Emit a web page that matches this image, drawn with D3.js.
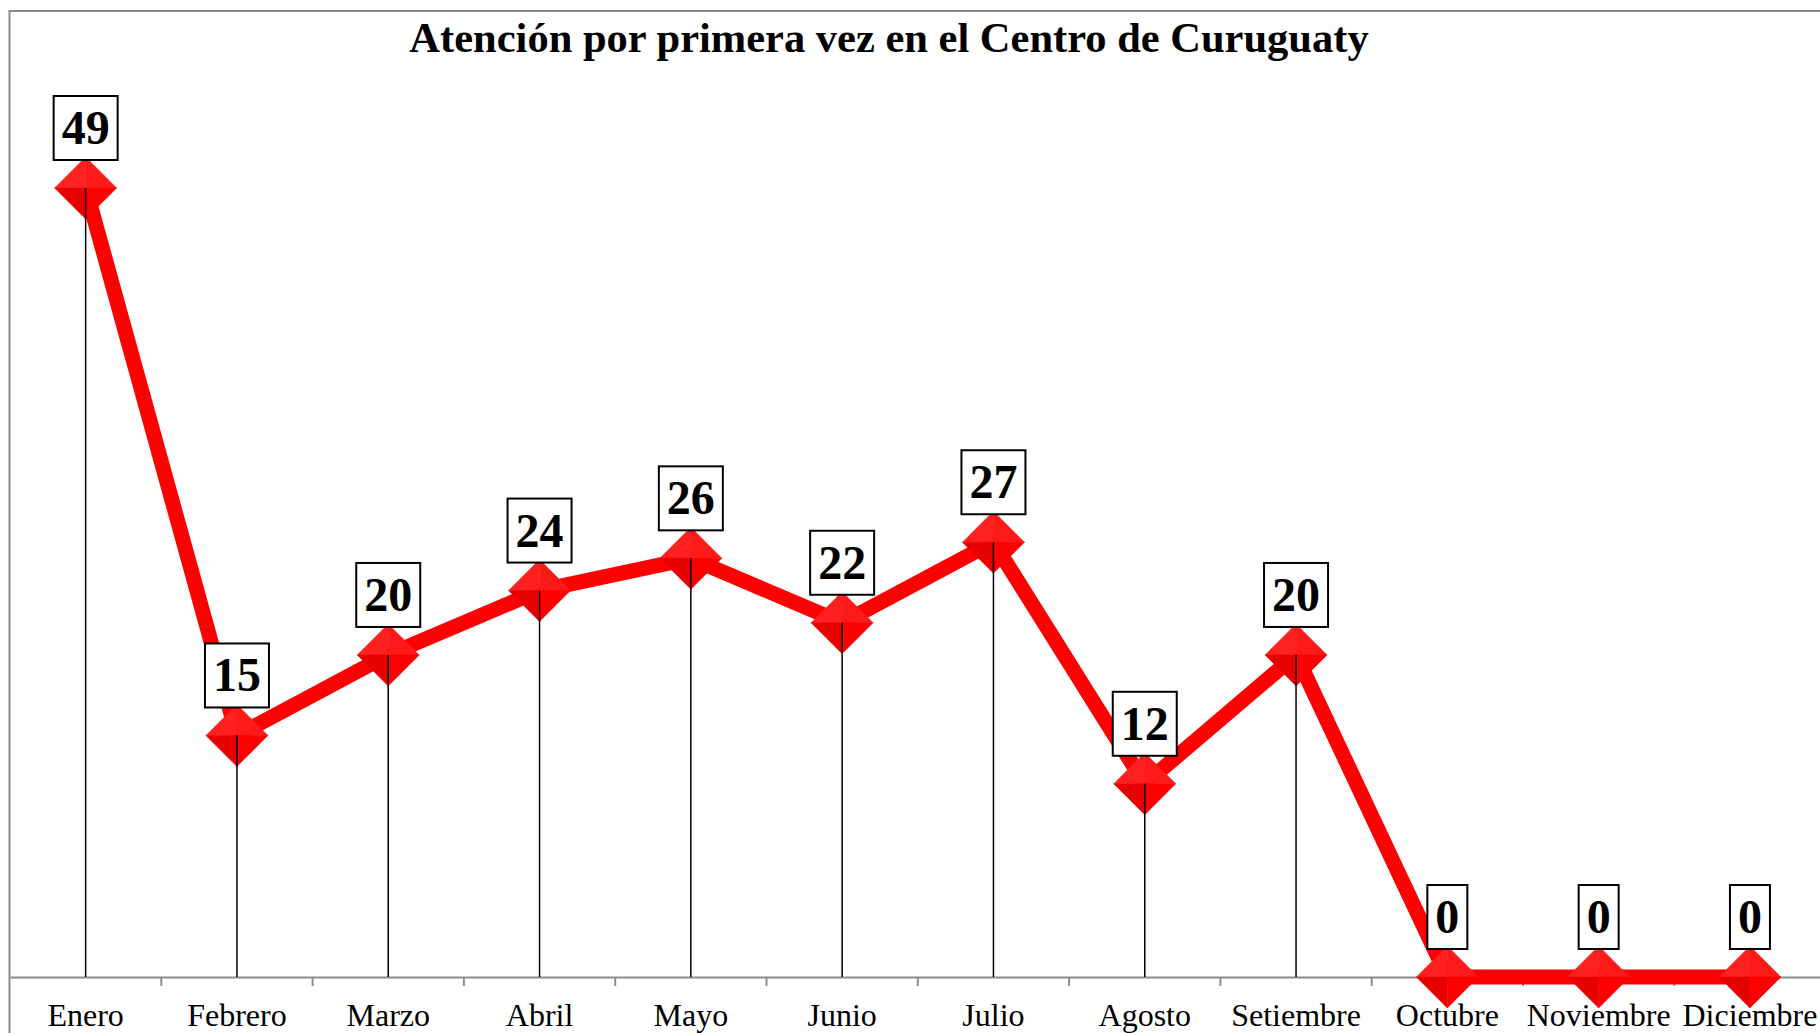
<!DOCTYPE html>
<html>
<head>
<meta charset="utf-8">
<script src="https://cdn.jsdelivr.net/npm/d3@7"></script>
<style>
  body { margin: 0; background: #fff; }
  svg { display: block; }
  text { font-family: "Liberation Serif", "Times New Roman", serif; }
</style>
</head>
<body>
<div id="chart"></div>
<script>
const months = ["Enero", "Febrero", "Marzo", "Abril", "Mayo", "Junio", "Julio",
                "Agosto", "Setiembre", "Octubre", "Noviembre", "Diciembre"];
const values = [49, 15, 20, 24, 26, 22, 27, 12, 20, 0, 0, 0];
const chart_title = "Atención por primera vez en el Centro de Curuguaty";

const width = 1820;
const height = 1033;

let svg = d3.select("#chart")
    .append("svg")
    .attr("width", width)
    .attr("height", height);

// outer border (the right side is cut off in the original)
svg.append("rect")
    .attr("x", 9.5)
    .attr("y", 11)
    .attr("width", 1830)
    .attr("height", 1040)
    .attr("fill", "none")
    .attr("stroke", "#8c8c8c")
    .attr("stroke-width", 2);

let xScale = d3.scaleBand()
    .domain(months)
    .range([10, 10 + 12 * 151.3]);

let yScale = d3.scaleLinear()
    .domain([0, 49])
    .range([977, 188]);

// title
svg.append("text")
    .attr("x", 889)
    .attr("y", 52)
    .attr("text-anchor", "middle")
    .attr("font-size", "42.5px")
    .attr("font-weight", "bold")
    .text(chart_title);

// x axis
let axis = svg.append("g")
    .attr("transform", "translate(0," + yScale(0) + ")")
    .call(d3.axisBottom(xScale).tickSize(0).tickSizeOuter(0));

axis.select(".domain")
    .attr("stroke", "#8c8c8c")
    .attr("stroke-width", 2);

axis.selectAll("text")
    .attr("y", 49)
    .attr("dy", 0)
    .attr("font-size", "32px")
    .attr("font-family", "'Liberation Serif', 'Times New Roman', serif")
    .attr("fill", "#000");

// boundary ticks between categories
svg.selectAll(".cat_tick")
    .data(months.slice(1))
    .enter()
    .append("line")
    .attr("class", "cat_tick")
    .attr("x1", d => xScale(d))
    .attr("x2", d => xScale(d))
    .attr("y1", yScale(0))
    .attr("y2", yScale(0) + 9)
    .attr("stroke", "#8c8c8c")
    .attr("stroke-width", 2);

let cx = d => xScale(d) + xScale.bandwidth() / 2;

// drop lines
svg.selectAll(".drop")
    .data(months)
    .enter()
    .append("line")
    .attr("class", "drop")
    .attr("x1", d => cx(d))
    .attr("x2", d => cx(d))
    .attr("y1", (d, i) => yScale(values[i]))
    .attr("y2", yScale(0))
    .attr("stroke", "#000")
    .attr("stroke-width", 1.5);

// red line
let line = d3.line()
    .x((d, i) => cx(months[i]))
    .y(d => yScale(d));

svg.append("path")
    .datum(values)
    .attr("d", line)
    .attr("fill", "none")
    .attr("stroke", "#ff0000")
    .attr("stroke-width", 15)
    .attr("stroke-linejoin", "round");

// diamond markers, four shaded quarters
let r = 31;
let quarters = [
    {pts: [[0, -1], [-1, 0], [0, 0]], fill: "#ff2020"},
    {pts: [[0, -1], [1, 0], [0, 0]], fill: "#ff1a1a"},
    {pts: [[-1, 0], [0, 1], [0, 0]], fill: "#e60000"},
    {pts: [[1, 0], [0, 1], [0, 0]], fill: "#ff0000"}
];

let markers = svg.selectAll(".marker")
    .data(values)
    .enter()
    .append("g")
    .attr("class", "marker")
    .attr("transform", (d, i) => "translate(" + cx(months[i]) + "," + yScale(d) + ")");

quarters.forEach(function(q) {
    markers.append("polygon")
        .attr("points", q.pts.map(p => (p[0] * r) + "," + (p[1] * r)).join(" "))
        .attr("fill", q.fill)
        .attr("stroke", q.fill)
        .attr("stroke-width", 0.5);
});

// redraw drop line start over the lower half of the diamond
svg.selectAll(".drop2")
    .data(months)
    .enter()
    .append("line")
    .attr("x1", d => cx(d))
    .attr("x2", d => cx(d))
    .attr("y1", (d, i) => yScale(values[i]))
    .attr("y2", (d, i) => values[i] > 0 ? yScale(values[i]) + r : yScale(values[i]))
    .attr("stroke", "#000")
    .attr("stroke-width", 1.5);

// value labels in boxes
let labels = svg.selectAll(".val_label")
    .data(values)
    .enter()
    .append("g")
    .attr("class", "val_label");

labels.append("text")
    .attr("x", (d, i) => cx(months[i]))
    .attr("y", d => yScale(d) - 44)
    .attr("text-anchor", "middle")
    .attr("font-size", "48px")
    .attr("font-weight", "bold")
    .attr("fill", "#000")
    .text(d => d);

labels.each(function(d) {
    let g = d3.select(this);
    let bb = g.select("text").node().getBBox();
    let w = bb.width + 16;
    let cxv = bb.x + bb.width / 2;
    g.insert("rect", "text")
        .attr("x", cxv - w / 2)
        .attr("y", yScale(d) - 28 - 64)
        .attr("width", w)
        .attr("height", 64)
        .attr("fill", "#fff")
        .attr("stroke", "#000")
        .attr("stroke-width", 2);
});
</script>
</body>
</html>
